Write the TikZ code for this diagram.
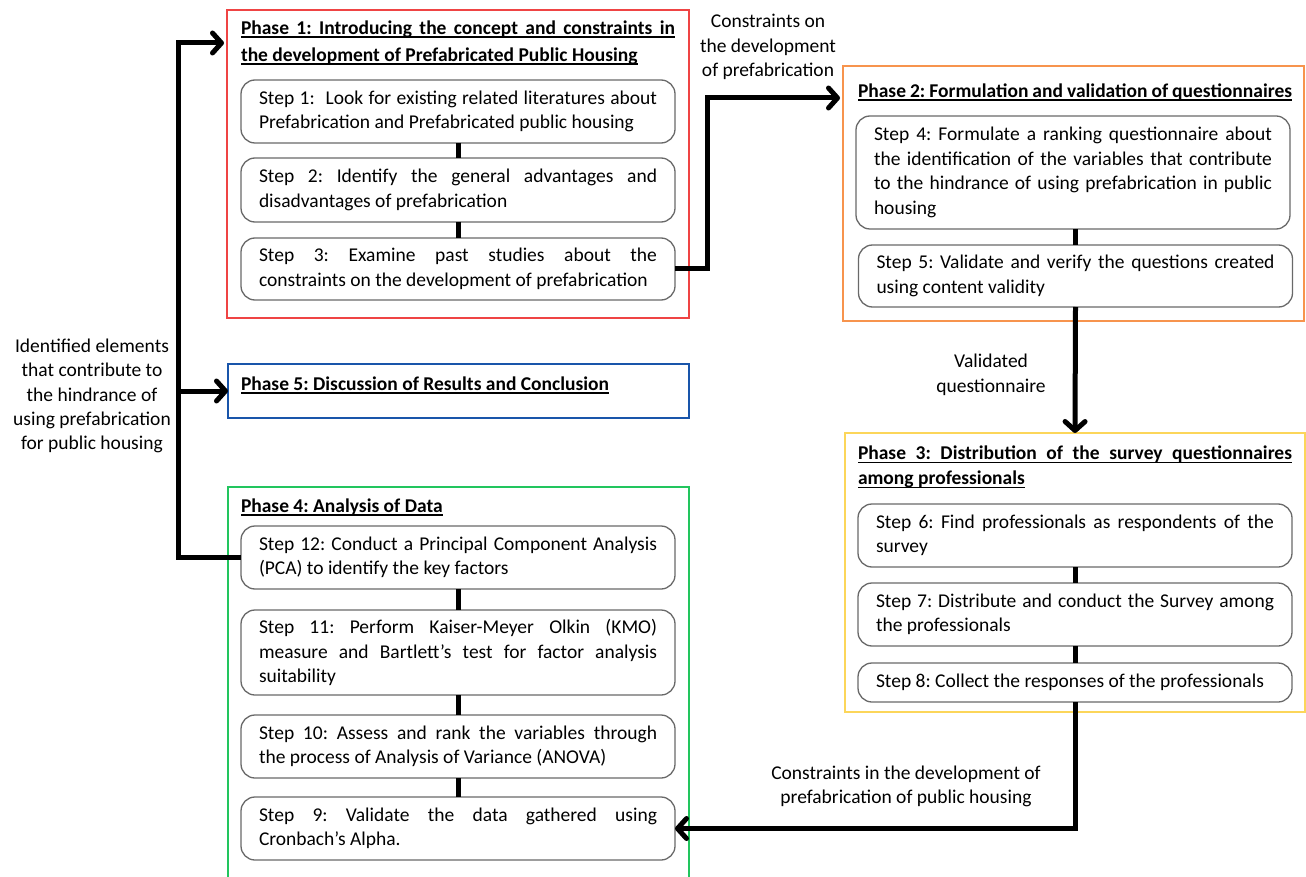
\documentclass[tikz,border=0pt]{standalone}
\usepackage{fontspec}
\setmainfont{Carlito}
\usetikzlibrary{arrows.meta}
\definecolor{pred}{RGB}{239,68,68}
\definecolor{porange}{RGB}{247,148,77}
\definecolor{pblue}{RGB}{25,85,170}
\definecolor{pyellow}{RGB}{252,214,90}
\definecolor{pgreen}{RGB}{34,197,94}
\definecolor{stepgray}{RGB}{105,105,105}
\newsavebox\phbox
\newcommand\phul[1]{\sbox\phbox{#1}\leavevmode\rlap{\rule[-3.5pt]{\wd\phbox}{1.4pt}}\usebox\phbox}
\newcommand\nohyph{\frenchspacing\hyphenpenalty=10000 \exhyphenpenalty=10000 \lefthyphenmin=64 \righthyphenmin=64 \relax}
\AtBeginDocument{\nohyph}
\tikzset{
  phasebox/.style={draw, line width=2.5pt, inner sep=0pt, outer sep=0pt},
  stepbox/.style={draw=stepgray, line width=1.3pt, rounded corners=14pt, fill=white,
    text width=398pt, inner xsep=18pt, inner ysep=0pt, outer sep=0pt, align=justify,
    font=\fontsize{19.5}{24.5}\selectfont, execute at begin node=\nohyph},
  phtitle/.style={inner sep=0pt, outer sep=0pt, align=left,
    font=\bfseries\fontsize{19.5}{27}\selectfont, execute at begin node=\nohyph},
  lbl/.style={inner sep=0pt, align=center, font=\fontsize{19.5}{24.5}\selectfont},
  link/.style={line width=5pt},
  flow/.style={line width=5pt, -{Straight Barb[length=9pt,width=20pt,line cap=round,line join=round]}},
}
\begin{document}
\begin{tikzpicture}[x=1pt,y=-1pt]
\clip (0,0) rectangle (1306,877);
\fill[white] (0,0) rectangle (1306,877);

% phase boxes
\node[phasebox, draw=pred, minimum width=462pt, minimum height=308pt] (p1) at (458,164) {};
\node[phasebox, draw=porange, minimum width=461pt, minimum height=255pt] (p2) at (1073.5,193.5) {};
\node[phasebox, draw=pblue, minimum width=461pt, minimum height=54pt] (p5) at (458.5,391) {};
\node[phasebox, draw=pyellow, minimum width=460pt, minimum height=279pt] (p3) at (1075,572.5) {};
\node[phasebox, draw=pgreen, minimum width=461pt, minimum height=413pt] (p4) at (458.5,693.5) {};

% titles
\node[phtitle] (t1) at (458,42.5) {\phul{\makebox[434pt][s]{Phase 1: Introducing the concept and constraints in}}\\\phul{the development of Prefabricated Public Housing}};
\node[phtitle] (t2) at (1075,92) {\phul{\makebox[434pt][s]{Phase 2: Formulation and validation of questionnaires}}};
\node[phtitle, font=\bfseries\fontsize{19.5}{25}\selectfont] (t3) at (1075,467) {\phul{\makebox[434pt][s]{Phase 3: Distribution of the survey questionnaires}}\\\phul{among professionals}};
\node[phtitle, anchor=west] (t4) at (241,507) {\phul{Phase 4: Analysis of Data}};
\node[phtitle, anchor=west] (t5) at (241,385) {\phul{Phase 5: Discussion of Results and Conclusion}};

% steps
\node[stepbox, minimum height=63pt] (s1) at (458,111.5) {Step 1:~ Look for existing related literatures about\linebreak Prefabrication and Prefabricated public housing};
\node[stepbox, minimum height=64pt] (s2) at (458,190) {Step 2: Identify the general advantages and\linebreak disadvantages of prefabrication};
\node[stepbox, minimum height=62pt] (s3) at (458,269) {Step 3: Examine past studies about the\linebreak constraints on the development of prefabrication};

\node[stepbox, minimum height=113pt] (s4) at (1073,172.5) {Step 4: Formulate a ranking questionnaire about\linebreak the identification of the variables that contribute\linebreak to the hindrance of using prefabrication in public\linebreak housing};
\node[stepbox, minimum height=62pt] (s5) at (1075.5,276) {Step 5: Validate and verify the questions created\linebreak using content validity};

\node[stepbox, minimum height=63pt] (s6) at (1075,535.5) {Step 6: Find professionals as respondents of the\linebreak survey};
\node[stepbox, minimum height=63pt] (s7) at (1075,614.5) {Step 7: Distribute and conduct the Survey among\linebreak the professionals};
\node[stepbox, minimum height=39pt] (s8) at (1075,682.5) {Step 8: Collect the responses of the professionals};

\node[stepbox, minimum height=63pt] (s12) at (458,557.5) {Step 12: Conduct a Principal Component Analysis\linebreak (PCA) to identify the key factors};
\node[stepbox, minimum height=85pt] (s11) at (458,652.5) {Step 11: Perform Kaiser-Meyer Olkin (KMO)\linebreak measure and Bartlett’s test for factor analysis\linebreak suitability};
\node[stepbox, minimum height=63pt] (s10) at (458,746.5) {Step 10: Assess and rank the variables through\linebreak the process of Analysis of Variance (ANOVA)};
\node[stepbox, minimum height=63pt] (s9) at (458,828.5) {Step 9: Validate the data gathered using\linebreak Cronbach’s Alpha.};

% step links
\draw[link] (s1.south) -- (s2.north);
\draw[link] (s2.south) -- (s3.north);
\draw[link] (s4.south -| s5.south) -- (s5.north);
\draw[link] (s6.south) -- (s7.north);
\draw[link] (s7.south) -- (s8.north);
\draw[link] (s12.south) -- (s11.north);
\draw[link] (s11.south) -- (s10.north);
\draw[link] (s10.south) -- (s9.north);

% labels
\node[lbl] (l1) at (768,47) {Constraints on\\the development\\of prefabrication};
\node[lbl] (l2) at (991,375) {Validated\\questionnaire};
\node[lbl] (l3) at (906,786.5) {Constraints in the development of\\prefabrication of public housing};
\node[lbl, font=\fontsize{19.5}{24.3}\selectfont] (l4) at (92,396) {Identified elements\\that contribute to\\the hindrance of\\using prefabrication\\for public housing};

% flows
\coordinate (a2) at (840,98);
\coordinate (a1) at (224,43);
\draw[flow] (s3.east) -- ++(32,0) |- (a2);
\draw[flow] (s5.south) -- (p3.north);
\draw[flow] (s8.south) |- (s9.east);
\draw[flow] (s12.west) -- ++(-63,0) coordinate (k) |- (a1);
\draw[flow] (k |- p5.west) -- (p5.west);
\end{tikzpicture}
\end{document}
